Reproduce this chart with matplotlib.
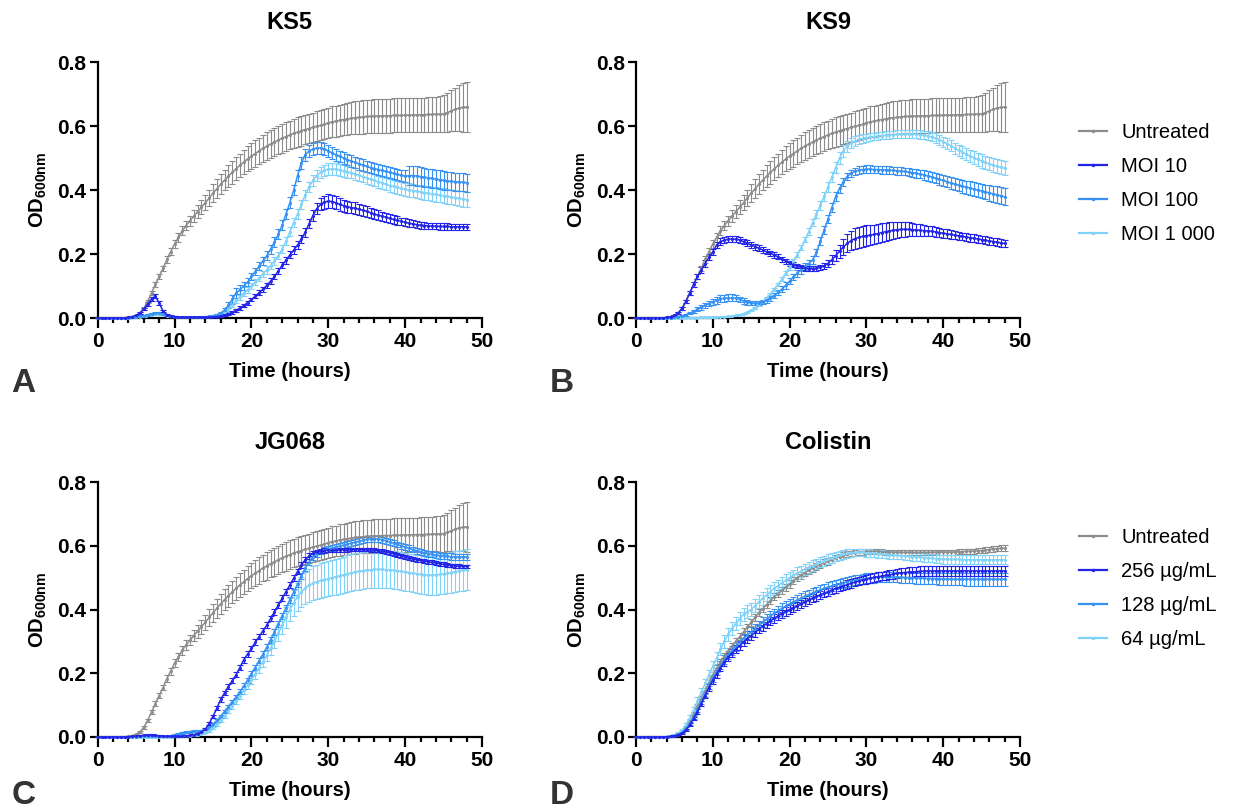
import numpy as np
import matplotlib

matplotlib.use('Agg')
import matplotlib.pyplot as plt
from matplotlib.lines import Line2D
from matplotlib.ticker import MultipleLocator, FormatStrFormatter

plt.rcParams['font.family'] = ['Liberation Sans', 'DejaVu Sans']
plt.rcParams['mathtext.fontset'] = 'custom'
plt.rcParams['mathtext.rm'] = 'Liberation Sans'
plt.rcParams['mathtext.bf'] = 'Liberation Sans:bold'

# OD600 readings every 30 min, in milli-OD (mean and SD)
time_h = np.arange(97) * 0.5

untreated = [
    0, 0, 0, 0, 0, 0, 0, 0, 2, 4,
    8, 16, 30, 52, 78, 105, 130, 155, 183, 207,
    232, 252, 272, 289, 304, 318, 332, 346, 360, 375,
    390, 404, 418, 431, 443, 455, 466, 477, 487, 497,
    506, 514, 522, 530, 537, 544, 550, 556, 562, 567,
    572, 577, 581, 585, 589, 592, 596, 599, 602, 605,
    610, 613, 615, 618, 620, 622, 624, 626, 627, 628,
    630, 630, 631, 631, 632, 632, 632, 633, 633, 633,
    634, 634, 634, 635, 635, 635, 636, 636, 637, 637,
    638, 642, 647, 652, 656, 658, 659]
untreated_sd = [
    0, 0, 0, 0, 0, 0, 0, 0, 1, 1,
    2, 3, 4, 5, 6, 7, 8, 9, 10, 11,
    12, 13, 14, 15, 16, 18, 20, 22, 24, 26,
    28, 30, 31, 32, 34, 35, 36, 37, 38, 39,
    40, 41, 42, 42, 43, 43, 44, 44, 45, 45,
    45, 45, 46, 46, 46, 46, 46, 47, 47, 47,
    47, 48, 48, 49, 49, 50, 50, 51, 51, 52,
    52, 52, 53, 53, 53, 53, 53, 53, 53, 53,
    53, 53, 53, 53, 54, 54, 54, 55, 55, 56,
    58, 60, 64, 68, 72, 76, 78]

# KS5
ks5_moi10 = [
    0, 0, 0, 0, 0, 0, 0, 0, 2, 4,
    8, 15, 28, 44, 60, 68, 46, 22, 10, 6,
    4, 3, 3, 3, 3, 3, 3, 3, 3, 3,
    3, 4, 6, 9, 13, 18, 24, 31, 39, 48,
    58, 68, 79, 90, 102, 115, 130, 147, 165, 181,
    197, 212, 228, 247, 268, 295, 320, 342, 355, 362,
    365, 364, 360, 355, 351, 348, 345, 343, 340, 337,
    333, 329, 325, 321, 318, 315, 311, 308, 305, 302,
    299, 296, 294, 292, 290, 289, 288, 287, 287, 286,
    286, 286, 285, 285, 285, 285, 285]
ks5_moi10_sd = [
    0, 0, 0, 0, 0, 0, 0, 0, 1, 1,
    2, 3, 4, 5, 6, 7, 6, 4, 3, 2,
    1, 1, 1, 1, 1, 1, 1, 1, 1, 1,
    1, 2, 2, 3, 3, 4, 4, 5, 5, 6,
    6, 7, 7, 8, 8, 9, 9, 10, 10, 11,
    11, 12, 12, 13, 14, 15, 16, 18, 19, 20,
    21, 21, 20, 20, 19, 19, 18, 18, 17, 17,
    16, 16, 15, 15, 14, 14, 13, 13, 13, 12,
    12, 12, 11, 11, 11, 10, 10, 10, 10, 10,
    10, 10, 10, 10, 10, 10, 10]
ks5_moi100 = [
    0, 0, 0, 0, 0, 0, 0, 0, 1, 2,
    3, 5, 7, 10, 13, 16, 15, 12, 8, 5,
    4, 3, 3, 3, 3, 3, 3, 3, 4, 5,
    7, 10, 15, 25, 40, 58, 78, 88, 100, 112,
    130, 145, 162, 178, 195, 215, 238, 262, 290, 325,
    360, 400, 445, 485, 510, 522, 528, 531, 531, 528,
    522, 516, 510, 505, 500, 495, 490, 486, 482, 478,
    474, 470, 467, 464, 461, 458, 455, 452, 449, 446,
    443, 445, 445, 444, 442, 440, 438, 436, 434, 432,
    430, 428, 427, 426, 425, 424, 423]
ks5_moi100_sd = [
    0, 0, 0, 0, 0, 0, 0, 0, 1, 1,
    1, 2, 2, 3, 3, 3, 3, 2, 2, 1,
    1, 1, 1, 1, 1, 1, 1, 1, 1, 1,
    2, 3, 4, 6, 10, 14, 15, 14, 13, 12,
    12, 12, 13, 13, 14, 14, 15, 15, 16, 16,
    17, 17, 18, 18, 18, 18, 18, 18, 18, 18,
    18, 18, 18, 18, 18, 18, 18, 18, 18, 18,
    18, 18, 18, 18, 18, 18, 18, 18, 18, 18,
    18, 30, 30, 30, 30, 30, 29, 29, 29, 29,
    29, 28, 28, 28, 28, 28, 28]
ks5_moi1000 = [
    0, 0, 0, 0, 0, 0, 0, 0, 1, 2,
    3, 4, 6, 8, 10, 12, 12, 10, 7, 5,
    4, 3, 3, 3, 3, 3, 3, 3, 3, 4,
    6, 9, 12, 18, 28, 40, 55, 65, 78, 88,
    100, 112, 125, 138, 150, 163, 178, 195, 215, 240,
    270, 298, 325, 355, 385, 410, 430, 445, 455, 461,
    465, 466, 465, 463, 460, 457, 454, 450, 446, 442,
    438, 434, 430, 426, 422, 418, 414, 411, 408, 405,
    402, 400, 398, 396, 394, 392, 390, 388, 386, 384,
    382, 380, 378, 376, 374, 372, 370]
ks5_moi1000_sd = [
    0, 0, 0, 0, 0, 0, 0, 0, 0, 1,
    1, 1, 2, 2, 2, 2, 2, 2, 1, 1,
    1, 1, 1, 1, 1, 1, 1, 1, 1, 1,
    1, 2, 3, 4, 5, 6, 7, 8, 8, 9,
    9, 10, 10, 10, 11, 11, 12, 12, 13, 13,
    14, 14, 15, 15, 16, 16, 17, 17, 18, 18,
    18, 18, 18, 18, 18, 18, 18, 18, 18, 18,
    18, 18, 19, 19, 19, 19, 20, 20, 20, 20,
    20, 21, 21, 21, 21, 22, 22, 22, 22, 22,
    23, 23, 23, 23, 24, 24, 24]

# KS9
ks9_moi10 = [
    0, 0, 0, 0, 0, 0, 0, 0, 2, 4,
    8, 16, 30, 52, 78, 105, 130, 150, 170, 190,
    207, 228, 239, 243, 246, 247, 246, 244, 239, 234,
    228, 223, 218, 212, 207, 202, 197, 191, 184, 177,
    171, 166, 162, 158, 155, 154, 154, 155, 158, 163,
    170, 182, 195, 209, 222, 233, 242, 248, 252, 255,
    257, 259, 261, 264, 267, 270, 272, 274, 276, 277,
    277, 277, 276, 275, 274, 273, 272, 271, 269, 267,
    265, 263, 261, 259, 257, 255, 253, 251, 249, 247,
    245, 243, 241, 239, 237, 235, 233]
ks9_moi10_sd = [
    0, 0, 0, 0, 0, 0, 0, 0, 1, 1,
    2, 3, 4, 5, 6, 7, 8, 9, 10, 10,
    10, 10, 10, 10, 9, 9, 9, 9, 9, 9,
    9, 9, 9, 9, 8, 8, 8, 8, 8, 8,
    8, 8, 7, 7, 7, 7, 7, 8, 9, 10,
    12, 14, 17, 20, 24, 28, 30, 32, 33, 33,
    33, 32, 31, 30, 29, 28, 27, 26, 25, 24,
    23, 22, 21, 20, 19, 18, 17, 16, 15, 15,
    14, 14, 13, 13, 13, 12, 12, 12, 12, 12,
    12, 12, 12, 12, 12, 12, 12]
ks9_moi100 = [
    0, 0, 0, 0, 0, 0, 0, 0, 1, 1,
    2, 4, 6, 10, 15, 21, 27, 33, 40, 45,
    50, 55, 60, 62, 63, 63, 62, 58, 53, 49,
    47, 46, 47, 50, 55, 62, 70, 80, 90, 102,
    115, 128, 140, 150, 160, 170, 182, 205, 240, 275,
    310, 345, 380, 405, 425, 442, 452, 458, 462, 464,
    465, 465, 464, 464, 463, 463, 462, 461, 460, 459,
    458, 456, 454, 452, 450, 447, 444, 441, 437, 433,
    430, 426, 422, 419, 415, 412, 409, 406, 403, 400,
    397, 394, 391, 388, 385, 382, 379]
ks9_moi100_sd = [
    0, 0, 0, 0, 0, 0, 0, 0, 0, 1,
    1, 2, 2, 3, 4, 5, 6, 7, 8, 9,
    10, 10, 11, 11, 11, 11, 10, 9, 8, 7,
    6, 6, 6, 7, 7, 8, 8, 9, 9, 10,
    10, 10, 11, 11, 11, 12, 12, 12, 13, 13,
    13, 13, 13, 13, 12, 12, 12, 12, 12, 12,
    12, 12, 12, 12, 12, 12, 12, 12, 12, 12,
    12, 13, 13, 14, 14, 15, 15, 16, 16, 17,
    17, 18, 18, 19, 19, 20, 20, 21, 21, 22,
    22, 23, 24, 25, 26, 27, 27]
ks9_moi1000 = [
    0, 0, 0, 0, 0, 0, 0, 0, 0, 0,
    0, 0, 1, 1, 1, 1, 1, 2, 2, 2,
    2, 3, 3, 4, 5, 6, 8, 10, 13, 18,
    24, 31, 40, 50, 62, 75, 90, 105, 122, 140,
    158, 178, 198, 220, 245, 270, 298, 325, 352, 380,
    410, 440, 470, 500, 522, 537, 547, 553, 558, 561,
    563, 565, 567, 569, 570, 571, 572, 573, 574, 575,
    575, 575, 575, 574, 573, 571, 569, 566, 562, 557,
    551, 545, 538, 531, 524, 518, 512, 506, 501, 496,
    491, 486, 482, 478, 474, 471, 468]
ks9_moi1000_sd = [
    0, 0, 0, 0, 0, 0, 0, 0, 0, 0,
    0, 0, 0, 0, 0, 0, 0, 1, 1, 1,
    1, 1, 1, 1, 1, 1, 1, 1, 1, 2,
    2, 2, 3, 3, 4, 4, 5, 5, 6, 6,
    7, 7, 8, 8, 9, 10, 11, 12, 13, 14,
    15, 16, 17, 18, 18, 17, 16, 15, 14, 13,
    12, 12, 12, 12, 12, 12, 12, 12, 12, 12,
    12, 12, 12, 12, 13, 13, 14, 14, 15, 15,
    16, 16, 17, 17, 18, 18, 19, 19, 20, 20,
    21, 21, 21, 22, 22, 22, 22]

# JG068
jg_moi10 = [
    0, 0, 0, 0, 0, 0, 0, 0, 1, 2,
    3, 4, 5, 6, 6, 5, 4, 3, 2, 2,
    2, 2, 3, 4, 5, 7, 10, 15, 24, 42,
    65, 90, 118, 138, 158, 176, 195, 218, 242, 260,
    278, 297, 315, 333, 351, 372, 393, 414, 435, 456,
    477, 498, 519, 540, 556, 568, 576, 580, 583, 585,
    586, 586, 587, 587, 587, 587, 588, 588, 588, 588,
    588, 587, 586, 585, 583, 581, 578, 575, 572, 568,
    564, 561, 558, 556, 554, 552, 550, 548, 546, 544,
    542, 540, 538, 537, 536, 535, 535]
jg_moi10_sd = [
    0, 0, 0, 0, 0, 0, 0, 0, 0, 1,
    1, 1, 1, 2, 2, 2, 1, 1, 1, 1,
    1, 1, 1, 1, 1, 1, 2, 2, 3, 4,
    5, 6, 7, 7, 8, 8, 8, 8, 9, 9,
    9, 9, 9, 9, 9, 9, 9, 9, 9, 9,
    9, 9, 9, 9, 8, 8, 8, 7, 7, 7,
    6, 6, 6, 6, 6, 6, 6, 6, 6, 6,
    6, 6, 6, 6, 6, 6, 6, 6, 6, 6,
    6, 6, 6, 6, 6, 6, 6, 6, 6, 6,
    6, 6, 6, 6, 6, 6, 6]
jg_moi100 = [
    0, 0, 0, 0, 0, 0, 0, 0, 1, 1,
    1, 2, 2, 2, 2, 2, 2, 2, 3, 4,
    6, 9, 12, 15, 17, 18, 19, 20, 24, 30,
    40, 52, 65, 80, 95, 110, 125, 142, 160, 178,
    198, 218, 240, 260, 282, 305, 330, 355, 380, 405,
    430, 455, 480, 505, 530, 550, 565, 575, 582, 587,
    590, 593, 596, 599, 602, 605, 608, 611, 614, 617,
    620, 622, 622, 621, 619, 616, 612, 608, 604, 600,
    596, 592, 588, 584, 581, 578, 575, 573, 571, 569,
    568, 567, 566, 565, 565, 565, 565]
jg_moi100_sd = [
    0, 0, 0, 0, 0, 0, 0, 0, 0, 1,
    1, 1, 1, 1, 1, 1, 1, 1, 1, 1,
    2, 2, 3, 3, 3, 3, 3, 3, 3, 4,
    4, 5, 5, 6, 6, 7, 7, 8, 8, 8,
    8, 8, 9, 9, 9, 9, 9, 9, 9, 9,
    9, 9, 9, 9, 9, 9, 9, 9, 9, 9,
    9, 9, 9, 9, 9, 9, 9, 9, 9, 9,
    9, 9, 9, 9, 9, 9, 9, 9, 9, 9,
    9, 9, 9, 9, 9, 9, 9, 9, 9, 9,
    10, 10, 10, 10, 10, 10, 10]
jg_moi1000 = [
    0, 0, 0, 0, 0, 0, 0, 0, 0, 0,
    0, 0, 0, 0, 1, 1, 1, 1, 1, 1,
    2, 2, 3, 3, 4, 5, 7, 10, 14, 20,
    28, 40, 53, 67, 82, 97, 113, 130, 147, 163,
    180, 198, 216, 236, 256, 278, 300, 325, 350, 375,
    400, 420, 440, 455, 468, 476, 482, 487, 491, 494,
    497, 500, 503, 506, 509, 512, 515, 518, 520, 522,
    524, 525, 526, 526, 526, 525, 524, 523, 522, 520,
    518, 516, 514, 512, 510, 509, 508, 508, 509, 510,
    512, 514, 516, 519, 521, 523, 525]
jg_moi1000_sd = [
    0, 0, 0, 0, 0, 0, 0, 0, 0, 0,
    0, 0, 0, 0, 0, 1, 1, 1, 1, 1,
    1, 1, 1, 1, 1, 1, 2, 2, 3, 3,
    4, 5, 6, 7, 8, 9, 10, 11, 12, 13,
    14, 15, 16, 17, 18, 20, 22, 25, 28, 32,
    36, 40, 44, 47, 50, 52, 53, 54, 55, 55,
    55, 56, 56, 57, 57, 58, 58, 58, 58, 58,
    58, 58, 58, 58, 58, 58, 58, 59, 59, 59,
    59, 59, 60, 60, 60, 61, 61, 61, 62, 62,
    62, 63, 63, 64, 64, 65, 65]

# Colistin
col_untreated = [
    0, 0, 0, 0, 0, 0, 0, 0, 1, 2,
    5, 9, 16, 30, 50, 72, 95, 120, 145, 170,
    195, 215, 235, 255, 270, 285, 300, 315, 330, 345,
    360, 375, 390, 403, 415, 428, 440, 450, 460, 470,
    480, 490, 500, 508, 515, 523, 530, 536, 541, 546,
    551, 556, 561, 565, 569, 573, 576, 578, 580, 581,
    582, 582, 582, 582, 581, 580, 580, 579, 579, 579,
    579, 579, 579, 579, 579, 579, 579, 579, 580, 580,
    580, 580, 580, 580, 581, 581, 582, 582, 583, 584,
    585, 586, 588, 590, 591, 592, 592]
col_untreated_sd = [
    0, 0, 0, 0, 0, 0, 0, 0, 0, 1,
    1, 2, 3, 4, 5, 6, 7, 8, 9, 10,
    10, 10, 10, 10, 10, 10, 11, 11, 11, 11,
    11, 11, 11, 11, 11, 11, 11, 11, 11, 11,
    11, 11, 11, 11, 11, 11, 11, 11, 11, 11,
    10, 10, 10, 10, 10, 9, 9, 9, 9, 9,
    8, 8, 8, 8, 8, 8, 8, 8, 8, 8,
    8, 8, 8, 8, 8, 8, 8, 8, 8, 8,
    8, 8, 8, 8, 8, 8, 8, 8, 8, 8,
    9, 9, 9, 9, 9, 9, 9]
col_256 = [
    0, 0, 0, 0, 0, 0, 0, 0, 1, 2,
    4, 7, 12, 22, 38, 58, 80, 105, 130, 155,
    178, 198, 218, 235, 250, 263, 275, 287, 298, 308,
    318, 328, 338, 347, 356, 364, 372, 380, 387, 394,
    400, 406, 412, 418, 424, 430, 436, 441, 446, 451,
    456, 461, 466, 470, 474, 478, 482, 486, 489, 492,
    495, 498, 501, 503, 505, 507, 509, 511, 513, 515,
    516, 517, 518, 519, 520, 520, 521, 521, 521, 521,
    521, 521, 521, 521, 521, 521, 521, 521, 521, 521,
    521, 521, 521, 521, 521, 521, 521]
col_256_sd = [
    0, 0, 0, 0, 0, 0, 0, 0, 0, 1,
    1, 2, 3, 4, 5, 6, 7, 8, 9, 10,
    11, 12, 12, 13, 13, 13, 13, 13, 13, 13,
    13, 13, 13, 13, 13, 13, 13, 13, 13, 13,
    13, 13, 13, 13, 13, 13, 13, 13, 13, 13,
    13, 13, 13, 13, 13, 13, 13, 13, 13, 13,
    14, 14, 14, 14, 14, 14, 14, 14, 14, 14,
    15, 15, 15, 15, 15, 15, 15, 15, 15, 15,
    15, 15, 15, 15, 15, 15, 15, 15, 15, 15,
    15, 15, 15, 15, 15, 15, 15]
col_128 = [
    0, 0, 0, 0, 0, 0, 0, 0, 1, 2,
    4, 8, 14, 26, 42, 62, 85, 110, 135, 160,
    185, 205, 225, 243, 258, 272, 285, 298, 310, 320,
    330, 340, 350, 360, 370, 379, 388, 396, 404, 411,
    418, 424, 430, 436, 442, 447, 452, 457, 462, 466,
    470, 474, 478, 481, 484, 487, 490, 492, 494, 496,
    498, 499, 500, 501, 502, 502, 502, 502, 502, 501,
    500, 500, 499, 499, 498, 498, 497, 497, 497, 496,
    496, 496, 495, 495, 495, 495, 495, 495, 495, 495,
    495, 495, 495, 495, 495, 495, 495]
col_128_sd = [
    0, 0, 0, 0, 0, 0, 0, 0, 0, 1,
    1, 2, 3, 4, 5, 6, 7, 8, 9, 10,
    11, 12, 12, 13, 13, 14, 14, 14, 14, 14,
    14, 14, 14, 15, 15, 15, 15, 15, 15, 15,
    15, 15, 15, 15, 15, 15, 15, 15, 15, 15,
    15, 15, 15, 15, 15, 15, 15, 15, 15, 15,
    15, 16, 16, 16, 16, 16, 16, 17, 17, 17,
    17, 17, 17, 18, 18, 18, 18, 18, 18, 18,
    19, 19, 19, 19, 19, 19, 20, 20, 20, 20,
    20, 20, 20, 20, 20, 20, 20]
col_64 = [
    0, 0, 0, 0, 0, 0, 0, 0, 1, 3,
    6, 12, 22, 38, 60, 85, 112, 140, 168, 195,
    222, 248, 275, 300, 322, 340, 356, 371, 385, 393,
    400, 412, 424, 435, 446, 456, 466, 475, 484, 492,
    500, 507, 514, 520, 526, 532, 538, 543, 548, 553,
    558, 562, 566, 570, 573, 576, 578, 579, 579, 579,
    578, 577, 576, 575, 574, 573, 572, 571, 570, 569,
    568, 567, 566, 565, 564, 563, 562, 561, 560, 559,
    558, 558, 557, 557, 557, 556, 556, 556, 556, 556,
    556, 556, 556, 556, 556, 556, 556]
col_64_sd = [
    0, 0, 0, 0, 0, 0, 0, 0, 1, 1,
    2, 3, 4, 6, 8, 10, 12, 14, 15, 16,
    17, 18, 19, 20, 20, 20, 20, 20, 20, 20,
    20, 20, 20, 20, 20, 20, 19, 19, 19, 19,
    18, 18, 18, 17, 17, 17, 16, 16, 16, 15,
    15, 15, 14, 14, 13, 13, 12, 12, 12, 12,
    12, 12, 12, 12, 12, 12, 12, 12, 12, 12,
    13, 13, 13, 13, 13, 13, 13, 13, 13, 13,
    14, 14, 14, 14, 14, 14, 14, 14, 14, 14,
    14, 14, 14, 14, 14, 14, 14]

phage_labels = ['Untreated', 'MOI 10', 'MOI 100', 'MOI 1 000']
colistin_labels = ['Untreated', '256 µg/mL', '128 µg/mL', '64 µg/mL']
colors = ['#8c8c8c', '#2424e6', '#3691f2', '#80d2f8']

panels = [
    ('KS5', 'A', [(untreated, untreated_sd), (ks5_moi10, ks5_moi10_sd),
                  (ks5_moi100, ks5_moi100_sd), (ks5_moi1000, ks5_moi1000_sd)]),
    ('KS9', 'B', [(untreated, untreated_sd), (ks9_moi10, ks9_moi10_sd),
                  (ks9_moi100, ks9_moi100_sd), (ks9_moi1000, ks9_moi1000_sd)]),
    ('JG068', 'C', [(untreated, untreated_sd), (jg_moi10, jg_moi10_sd),
                    (jg_moi100, jg_moi100_sd), (jg_moi1000, jg_moi1000_sd)]),
    ('Colistin', 'D', [(col_untreated, col_untreated_sd), (col_256, col_256_sd),
                       (col_128, col_128_sd), (col_64, col_64_sd)]),
]

W, H = 1233, 810
fig = plt.figure(figsize=(W / 100, H / 100), dpi=100)

# axes boxes in pixels: left, top, right, bottom
boxes = [(97.7, 62, 482, 318), (636, 62, 1020, 318),
         (97.7, 482, 482, 737), (636, 482, 1020, 737)]
letter_y = [384, 384, 795, 795]

for (title, letter, series), (x0, y0, x1, y1), ly in zip(panels, boxes, letter_y):
    ax = fig.add_axes([x0 / W, 1 - y1 / H, (x1 - x0) / W, (y1 - y0) / H])
    # light series first so the darker ones sit on top
    for idx in [0, 3, 2, 1]:
        mean, sd = series[idx]
        ax.errorbar(time_h, np.array(mean) / 1000, yerr=np.array(sd) / 1000,
                    color=colors[idx], lw=1.1, elinewidth=0.8, capsize=2.2,
                    capthick=0.8, marker='.', ms=2.5, clip_on=False, zorder=3)
    ax.set_xlim(0, 50)
    ax.set_ylim(0, 0.8)
    ax.spines['top'].set_visible(False)
    ax.spines['right'].set_visible(False)
    for s in ['left', 'bottom']:
        ax.spines[s].set_linewidth(1.6)
    ax.xaxis.set_major_locator(MultipleLocator(10))
    ax.xaxis.set_minor_locator(MultipleLocator(2))
    ax.yaxis.set_major_locator(MultipleLocator(0.2))
    ax.yaxis.set_major_formatter(FormatStrFormatter('%.1f'))
    ax.tick_params(which='major', direction='out', length=7, width=1.6,
                   labelsize=15, pad=3)
    ax.tick_params(which='minor', direction='out', length=3.8, width=1.6)
    ax.tick_params(axis='y', which='major', length=6, pad=2)
    for lab in ax.get_xticklabels() + ax.get_yticklabels():
        lab.set_fontweight('bold')
    ax.set_xlabel('Time (hours)', fontsize=14.5, fontweight='bold', labelpad=8)
    ax.set_ylabel(r'OD$_{\mathbf{600nm}}$', fontsize=14.5, fontweight='bold',
                  labelpad=6)
    ax.text(0.5, 1 + 40 / (y1 - y0), title, transform=ax.transAxes,
            ha='center', va='center', fontsize=17, fontweight='bold')
    fig.text((x0 - 74) / W, 1 - ly / H, letter, ha='center',
             va='center', fontsize=24, fontweight='bold', color='#333333')

# legends beside the right-hand panels
for labels, yc in [(phage_labels, 183.5), (colistin_labels, 588.5)]:
    handles = [Line2D([], [], color=c, lw=1.6, marker='.', ms=3) for c in colors]
    fig.legend(handles, labels, loc='center left',
               bbox_to_anchor=(1079 / W, 1 - yc / H), frameon=False,
               fontsize=14.5, handlelength=1.4, handletextpad=0.7,
               labelspacing=0.75, borderpad=0, borderaxespad=0)

fig.savefig('out.png', dpi=100)
